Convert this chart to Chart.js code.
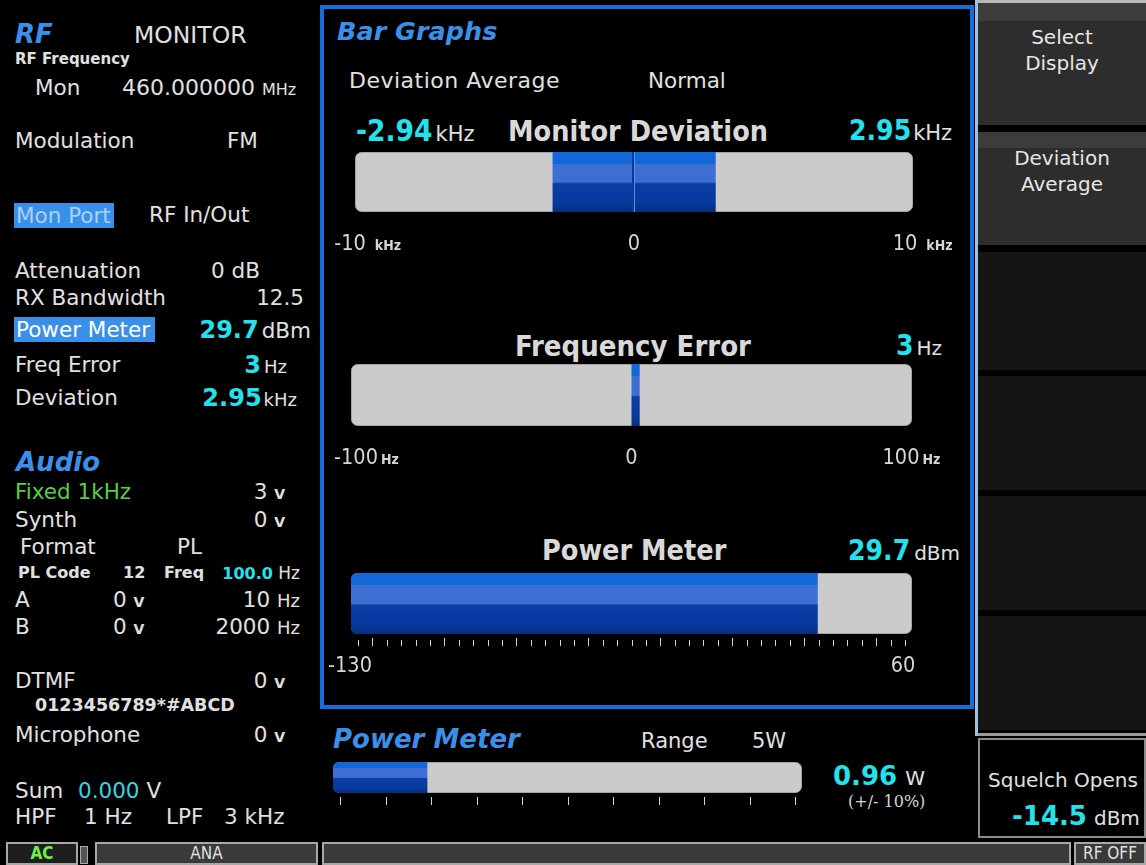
<!DOCTYPE html>
<html><head><meta charset="utf-8">
<script src="https://cdn.jsdelivr.net/npm/chart.js@4.4.1/dist/chart.umd.min.js"></script>
<style>
html,body{margin:0;padding:0;background:#000}
#scr{position:relative;width:1146px;height:865px;overflow:hidden;background:#000;font-family:"DejaVu Sans",Verdana,sans-serif;color:#e0e0e0;font-size:21.5px}
.t{position:absolute;white-space:nowrap;line-height:1}
.h{color:#3a8fe9;font-weight:bold;font-style:italic}
.c{color:#22e2ee;font-weight:bold}
.cd{font-family:"DejaVu Sans Condensed","DejaVu Sans",sans-serif;font-stretch:condensed}
.bd{font-weight:bold}
.sv{font-size:14px;font-weight:bold}
canvas{position:absolute}
.box{position:absolute;box-sizing:border-box}
.key{position:absolute;left:978px;width:168px;box-sizing:border-box;text-align:center;color:#e6e6e6;font-size:20px;line-height:26px}
.sb{position:absolute;box-sizing:border-box;top:842px;height:23px;background:#3a3a3a;border:2px solid #a8a8a8;color:#e0e0e0;text-align:center;font-size:17px;line-height:19px;font-family:"DejaVu Sans Condensed","DejaVu Sans",sans-serif;font-stretch:condensed}
</style></head>
<body><div id="scr">

<!-- left panel -->
<div class="t h" style="left:15px;top:21px;font-size:26px">RF</div>
<div class="t" style="left:134px;top:24px;font-size:23.5px">MONITOR</div>
<div class="t bd" style="left:15px;top:52px;font-size:15px">RF Frequency</div>
<div class="t" style="left:35px;top:77px">Mon</div>
<div class="t" style="left:122px;top:77px;font-size:22px">460.000000 <span style="font-size:16px">MHz</span></div>
<div class="t" style="left:15px;top:130px">Modulation</div>
<div class="t" style="left:227px;top:130px">FM</div>
<div class="box" style="left:14px;top:203px;width:100px;height:25px;background:#3a8fe8"></div>
<div class="t" style="left:16px;top:205px;color:#a6d2ff">Mon Port</div>
<div class="t" style="left:149px;top:204px">RF In/Out</div>
<div class="t" style="left:15px;top:260px">Attenuation</div>
<div class="t" style="left:211px;top:260px">0 dB</div>
<div class="t" style="left:15px;top:287px">RX Bandwidth</div>
<div class="t" style="right:842px;top:287px">12.5</div>
<div class="box" style="left:14px;top:317px;width:141px;height:25px;background:#3a8fe8"></div>
<div class="t" style="left:16px;top:319px;color:#fff">Power Meter</div>
<div class="t" style="right:835px;top:318px"><span class="c" style="font-size:24px">29.7</span><span style="margin-left:3px">dBm</span></div>
<div class="t" style="left:15px;top:354px">Freq Error</div>
<div class="t" style="right:859px;top:353px"><span class="c" style="font-size:24px">3</span><span style="font-size:18px;margin-left:3px">Hz</span></div>
<div class="t" style="left:15px;top:387px">Deviation</div>
<div class="t" style="right:849px;top:386px"><span class="c" style="font-size:24px">2.95</span><span style="font-size:18px;margin-left:2px">kHz</span></div>

<div class="t h" style="left:16px;top:449px;font-size:26px">Audio</div>
<div class="t" style="left:15px;top:481px;color:#56cf45">Fixed 1kHz</div>
<div class="t" style="right:861px;top:481px">3 <span class="sv">V</span></div>
<div class="t" style="left:15px;top:509px">Synth</div>
<div class="t" style="right:861px;top:509px">0 <span class="sv">V</span></div>
<div class="t" style="left:20px;top:536px">Format</div>
<div class="t" style="left:177px;top:536px">PL</div>
<div class="t bd" style="left:18px;top:565px;font-size:16px">PL Code</div>
<div class="t bd" style="left:123px;top:565px;font-size:16px">12</div>
<div class="t bd" style="left:164px;top:565px;font-size:16px">Freq</div>
<div class="t" style="right:846px;top:565px;font-size:17px"><span class="c" style="font-size:16px">100.0</span> Hz</div>
<div class="t" style="left:15px;top:589px">A</div>
<div class="t" style="left:113px;top:589px">0 <span class="sv">V</span></div>
<div class="t" style="right:846px;top:589px">10 <span style="font-size:18px">Hz</span></div>
<div class="t" style="left:15px;top:616px">B</div>
<div class="t" style="left:113px;top:616px">0 <span class="sv">V</span></div>
<div class="t" style="right:846px;top:616px">2000 <span style="font-size:18px">Hz</span></div>
<div class="t" style="left:15px;top:670px">DTMF</div>
<div class="t" style="right:861px;top:670px">0 <span class="sv">V</span></div>
<div class="t bd" style="left:35px;top:697px;font-size:17.5px">0123456789*#ABCD</div>
<div class="t" style="left:15px;top:724px">Microphone</div>
<div class="t" style="right:861px;top:724px">0 <span class="sv">V</span></div>
<div class="t" style="left:15px;top:780px">Sum</div>
<div class="t" style="left:78px;top:780px"><span style="color:#35d5e3">0.000</span> V</div>
<div class="t" style="left:15px;top:806px">HPF</div>
<div class="t" style="left:84px;top:806px">1 Hz</div>
<div class="t" style="left:166px;top:806px">LPF</div>
<div class="t" style="left:224px;top:806px">3 kHz</div>

<!-- bar graphs frame -->
<div class="box" style="left:320px;top:5px;width:654px;height:704px;border:4px solid #1170dc"></div>
<div class="t h" style="left:337px;top:19px;font-size:25.5px">Bar Graphs</div>
<div class="t" style="left:349px;top:70px;font-size:22px;letter-spacing:0.5px">Deviation Average</div>
<div class="t" style="left:648px;top:70px;font-size:21.5px">Normal</div>

<div class="t" style="left:356px;top:117px"><span class="c cd" style="font-size:29.5px">-2.94</span><span style="font-size:21px;margin-left:3px">kHz</span></div>
<div class="t bd cd" style="left:508px;top:118px;font-size:28.5px;color:#d9d9d9">Monitor Deviation</div>
<div class="t" style="left:849px;top:117px"><span class="c cd" style="font-size:28px">2.95</span><span style="font-size:21px;margin-left:2px">kHz</span></div>

<div class="t bd cd" style="left:515px;top:332px;font-size:29px;color:#d9d9d9">Frequency Error</div>
<div class="t" style="left:896px;top:332px"><span class="c cd" style="font-size:28px">3</span><span style="font-size:20px;margin-left:3px">Hz</span></div>

<div class="t bd cd" style="left:542px;top:537px;font-size:28.5px;color:#d9d9d9">Power Meter</div>
<div class="t" style="left:848px;top:537px"><span class="c cd" style="font-size:28px">29.7</span><span style="font-size:20px;margin-left:4px">dBm</span></div>

<canvas id="cDev" width="645" height="110" style="left:325px;top:148px;width:645px;height:110px"></canvas>
<canvas id="cFerr" width="645" height="110" style="left:325px;top:360px;width:645px;height:110px"></canvas>
<canvas id="cPwr" width="645" height="110" style="left:325px;top:569px;width:645px;height:110px"></canvas>

<!-- bottom power meter -->
<div class="t h" style="left:333px;top:726px;font-size:26px">Power Meter</div>
<div class="t" style="left:641px;top:731px;font-size:21px">Range</div>
<div class="t" style="left:752px;top:731px;font-size:21px">5W</div>
<canvas id="cWatt" width="485" height="55" style="left:325px;top:758px;width:485px;height:55px"></canvas>
<div class="t" style="left:833px;top:763px"><span class="c" style="font-size:26px">0.96</span><span style="font-size:20px;margin-left:8px">W</span></div>
<div class="t" style="left:848px;top:794px;font-size:16px;font-family:'DejaVu Serif',serif;color:#d6d6d6">(+/- 10%)</div>

<!-- softkeys -->
<div class="box" style="left:975px;top:0;width:3px;height:736px;background:#9cc2e6"></div>
<div class="box" style="left:978px;top:0;width:168px;height:3px;background:#b8b8b8"></div>
<div class="key" style="top:3px;height:122px;padding-top:21px;background:linear-gradient(#3c3c3c 0,#3c3c3c 18px,#2d2d2d 18px)">Select<br>Display</div>
<div class="key" style="top:132px;height:113px;padding-top:13px;background:linear-gradient(#3c3c3c 0,#3c3c3c 16px,#2d2d2d 16px)">Deviation<br>Average</div>
<div class="key" style="top:252px;height:118px;background:#151515"></div>
<div class="key" style="top:376px;height:114px;background:#151515"></div>
<div class="key" style="top:496px;height:114px;background:#151515"></div>
<div class="key" style="top:616px;height:114px;background:#151515"></div>
<div class="box" style="left:978px;top:733px;width:168px;height:3px;background:#9a9a9a"></div>
<div class="box" style="left:978px;top:738px;width:168px;height:100px;border:2px solid #8c8c8c;background:#000"></div>
<div class="t" style="left:988px;top:770px;font-size:20px">Squelch Opens</div>
<div class="t" style="left:1012px;top:803px"><span class="c" style="font-size:26px">-14.5</span><span style="font-size:20px;margin-left:7px">dBm</span></div>

<!-- status bar -->
<div class="sb" style="left:6px;width:72px;background:#1e1e1e;color:#6cf04a;font-weight:bold">AC</div>
<div class="box" style="left:80px;top:846px;width:8px;height:18px;border:1px solid #aaa;background:#555"></div>
<div class="sb" style="left:95px;width:223px">ANA</div>
<div class="sb" style="left:322px;width:749px"></div>
<div class="sb" style="left:1074px;width:72px">RF OFF</div>

</div>
<script>
// ---------- data read from the display ----------
const devAxisLabels = [-10, 0, 10];
const devUnit = 'kHz';
const devPeaks = [-2.94, 2.95];
const ferrAxisLabels = [-100, 0, 100];
const ferrUnit = 'Hz';
const ferrValue = 3;
const pwrAxisLabels = [-130, 60];
const pwrTickStep = 5;
const pwrMajorStep = 25;
const pwrValue = 29.7;
const wattAxisLabels = [0, 5];
const wattTickStep = 0.5;
const wattValue = 0.96;

// ---------- drawing helpers ----------
function blueFill(c){
  const ch = c.chart, a = ch.chartArea;
  if(!a) return '#1a5ccc';
  const g = ch.ctx.createLinearGradient(0, a.top, 0, a.bottom);
  [[0,'#1268d8'],[0.2,'#1268d8'],[0.2,'#3d6fd2'],[0.5,'#3d6fd2'],[0.53,'#0a3da6'],[0.86,'#06389e'],[1,'#052f78']]
    .forEach(s => g.addColorStop(s[0], s[1]));
  return g;
}

const trackPlugin = {
  id: 'track',
  beforeDatasetsDraw(chart){
    const {ctx, chartArea:a} = chart;
    ctx.save();
    ctx.beginPath();
    ctx.roundRect(a.left+0.5, a.top+0.5, a.right-a.left-1, a.bottom-a.top-1, 6);
    ctx.fillStyle = '#cbcbcb'; ctx.fill();
    ctx.strokeStyle = '#a4a4a4'; ctx.lineWidth = 1; ctx.stroke();
    ctx.restore();
  }
};

const axisPlugin = {
  id: 'axisMarks',
  afterDatasetsDraw(chart, args, o){
    const {ctx, chartArea:a} = chart; const x = chart.scales.x;
    ctx.save();
    if(o.divider !== undefined && o.divider !== null){
      const px = Math.round(x.getPixelForValue(o.divider));
      ctx.fillStyle = '#0a3a98'; ctx.fillRect(px-2, a.top, 2, a.bottom-a.top);
      ctx.fillStyle = '#5b8fe6'; ctx.fillRect(px, a.top, 1, a.bottom-a.top);
    }
    if(o.step){
      ctx.strokeStyle = '#d4d4d4'; ctx.lineWidth = 1;
      const n = Math.round((o.hi - o.lo)/o.step);
      for(let i=0;i<=n;i++){
        const v = o.lo + i*o.step;
        const px = Math.round(x.getPixelForValue(v)) + 0.5;
        const major = o.major && Math.abs(v/o.major - Math.round(v/o.major)) < 1e-6;
        ctx.beginPath();
        ctx.moveTo(px, a.bottom + o.tickGap + (major ? 0 : o.minorInset));
        ctx.lineTo(px, a.bottom + o.tickGap + o.tickLen);
        ctx.stroke();
      }
    }
    (o.labels || []).forEach((v, i) => {
      const px = x.getPixelForValue(v) + (o.labelDx ? o.labelDx[i] : 0);
      const y = a.bottom + o.labelY;
      ctx.textBaseline = 'alphabetic'; ctx.textAlign = 'left';
      ctx.fillStyle = '#d6d6d6';
      ctx.font = o.numFont;
      const txt = String(v);
      const nw = ctx.measureText(txt).width;
      const left = px - nw/2;
      ctx.fillText(txt, left, y);
      if(o.unit && v !== 0){
        ctx.font = o.unitFont;
        ctx.fillText(o.unit, left + nw + o.unitGap, y);
      }
    });
    ctx.restore();
  }
};

function meter(id, cfg){
  const cv = document.getElementById(id);
  const p = cfg.pad;
  const areaW = cv.width - p.left - p.right;
  const upp = (cfg.hi - cfg.lo) / (areaW - 2*cfg.inset);
  const smin = cfg.lo - cfg.inset*upp, smax = cfg.hi + cfg.inset*upp;
  const datasets = cfg.bars(smin, smax).map(b => ({
    data: [b.range], backgroundColor: blueFill, borderWidth: 0, borderSkipped: false,
    borderRadius: b.radius || 0, barPercentage: 1, categoryPercentage: 1, grouped: false, inflateAmount: 0
  }));
  return new Chart(cv, {
    type: 'bar',
    data: { labels: [''], datasets },
    options: {
      indexAxis: 'y', responsive: false, animation: false, devicePixelRatio: 1,
      layout: { padding: p },
      events: [],
      plugins: { legend: {display:false}, tooltip: {enabled:false},
        axisMarks: Object.assign({lo: cfg.lo, hi: cfg.hi}, cfg.axis) },
      scales: {
        x: { type: 'linear', min: smin, max: smax, display: false },
        y: { display: false }
      }
    },
    plugins: [trackPlugin, axisPlugin]
  });
}

const numFont = '21.5px "DejaVu Sans Condensed", "DejaVu Sans", sans-serif';
const unitFont = 'bold 14px "DejaVu Sans Condensed", "DejaVu Sans", sans-serif';
const leftRound = {topLeft: 6, bottomLeft: 6, topRight: 0, bottomRight: 0};

meter('cDev', {
  lo: devAxisLabels[0], hi: devAxisLabels[devAxisLabels.length-1], inset: 2,
  pad: {left: 30, right: 57, top: 4, bottom: 46},
  bars: () => [{range: [devPeaks[0], 0]}, {range: [0, devPeaks[1]]}],
  axis: {divider: 0, labels: devAxisLabels, labelDx: [-7, 0, -6], labelY: 38, unit: devUnit, unitGap: 9, numFont, unitFont}
});

meter('cFerr', {
  lo: ferrAxisLabels[0], hi: ferrAxisLabels[ferrAxisLabels.length-1], inset: 7,
  pad: {left: 26, right: 58, top: 4, bottom: 44},
  bars: () => [{range: [0, ferrValue]}],
  axis: {labels: ferrAxisLabels, labelDx: [-2, 0, -4], labelY: 38, unit: ferrUnit, unitGap: 3, numFont, unitFont}
});

meter('cPwr', {
  lo: pwrAxisLabels[0], hi: pwrAxisLabels[1], inset: 7,
  pad: {left: 26, right: 58, top: 4, bottom: 45},
  bars: (smin) => [{range: [smin, pwrValue], radius: leftRound}],
  axis: {step: pwrTickStep, major: pwrMajorStep, tickGap: 4, tickLen: 8, minorInset: 2,
         labels: pwrAxisLabels, labelDx: [-8, -2], labelY: 38, numFont}
});

meter('cWatt', {
  lo: wattAxisLabels[0], hi: wattAxisLabels[1], inset: 7,
  pad: {left: 8, right: 8, top: 4, bottom: 20},
  bars: (smin) => [{range: [smin, wattValue], radius: leftRound}],
  axis: {step: wattTickStep, tickGap: 4, tickLen: 8, minorInset: 0}
});
</script>
</body></html>
